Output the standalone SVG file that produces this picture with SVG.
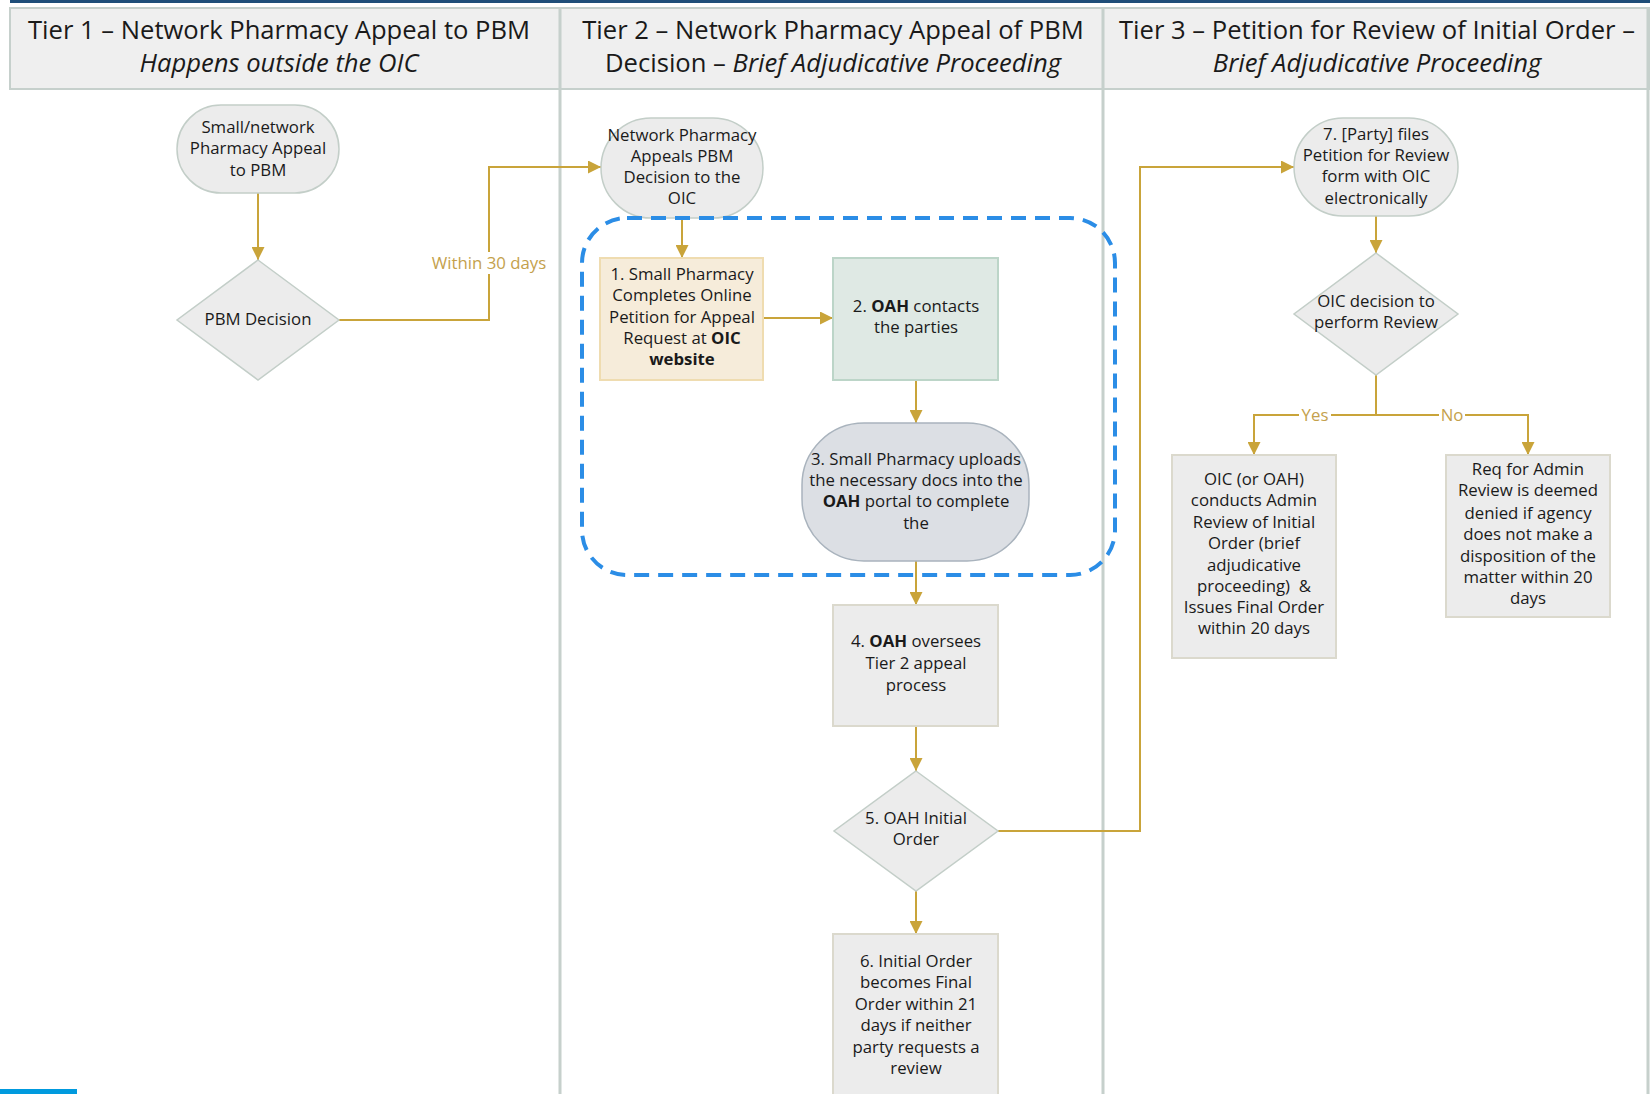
<svg xmlns="http://www.w3.org/2000/svg" width="1650" height="1094" viewBox="0 0 1650 1094">
<defs>
<style>
.hdr{font-family:"Open Sans","Noto Sans",sans-serif;font-size:25.6px;fill:#1a1a1a;text-anchor:middle}
.t{font-family:"Open Sans","Noto Sans",sans-serif;font-size:16.8px;fill:#1a1a1a;text-anchor:middle}
.lbl{font-family:"Open Sans","Noto Sans",sans-serif;font-size:16.8px;fill:#c4a14c;text-anchor:middle}
.gray{fill:#ececec;stroke:#c3cec8;stroke-width:1.5}
.box{fill:#ececec;stroke:#dbd9cd;stroke-width:2}
.conn{fill:none;stroke:#c9a43a;stroke-width:2}
.div{stroke:#c6d0cc;stroke-width:3}
</style>
<marker id="ah" viewBox="0 0 12 12" refX="12" refY="6" markerWidth="13" markerHeight="13" markerUnits="userSpaceOnUse" orient="auto">
<path d="M0,0 L12,6 L0,12 z" fill="#c9a43a"/>
</marker>
</defs>
<rect width="1650" height="1094" fill="#ffffff"/>
<g id="frame">
<rect x="10" y="0" width="1640" height="3" fill="#1f4e79"/>
<rect x="10" y="8" width="1640" height="81" fill="#efefef" stroke="#c6d0cc" stroke-width="2"/>
<line class="div" x1="560" y1="8" x2="560" y2="1094"/>
<line class="div" x1="1103" y1="8" x2="1103" y2="1094"/>
<line class="div" x1="1648" y1="8" x2="1648" y2="1094"/>
<rect x="0" y="1089" width="77" height="5" fill="#009ade"/>
</g>
<g id="headers">
<text class="hdr" x="279" y="39">Tier 1 – Network Pharmacy Appeal to PBM</text>
<text class="hdr" x="279" y="72" font-style="italic">Happens outside the OIC</text>
<text class="hdr" x="833" y="39">Tier 2 – Network Pharmacy Appeal of PBM</text>
<text class="hdr" x="833" y="72">Decision – <tspan font-style="italic">Brief Adjudicative Proceeding</tspan></text>
<text class="hdr" x="1377" y="39">Tier 3 – Petition for Review of Initial Order –</text>
<text class="hdr" x="1377" y="72" font-style="italic">Brief Adjudicative Proceeding</text>
</g>
<g id="connectors">
<path class="conn" d="M258,193 V260" marker-end="url(#ah)"/>
<path class="conn" d="M339,320 H489 V167 H601" marker-end="url(#ah)"/>
<rect x="428" y="252" width="122" height="22" fill="#ffffff"/>
<text class="lbl" x="489" y="269">Within 30 days</text>
<path class="conn" d="M682,218 V258" marker-end="url(#ah)"/>
<path class="conn" d="M763,318 H833" marker-end="url(#ah)"/>
<path class="conn" d="M916,380 V423" marker-end="url(#ah)"/>
<path class="conn" d="M916,561 V605" marker-end="url(#ah)"/>
<path class="conn" d="M916,726 V771" marker-end="url(#ah)"/>
<path class="conn" d="M916,891 V934" marker-end="url(#ah)"/>
<path class="conn" d="M998,831 H1140 V167 H1294" marker-end="url(#ah)"/>
<path class="conn" d="M1376,216 V253" marker-end="url(#ah)"/>
<path class="conn" d="M1376,375 V415"/>
<path class="conn" d="M1376,415 H1254 V455" marker-end="url(#ah)"/>
<path class="conn" d="M1376,415 H1528 V455" marker-end="url(#ah)"/>
<rect x="1299" y="406" width="32" height="18" fill="#ffffff"/>
<text class="lbl" x="1315" y="421">Yes</text>
<rect x="1439" y="406" width="26" height="18" fill="#ffffff"/>
<text class="lbl" x="1452" y="421">No</text>
</g>
<g id="n-start">
<rect class="gray" x="177" y="105" width="162" height="88" rx="44"/>
<text class="t"><tspan x="258" y="133">Small/network</tspan><tspan x="258" y="154">Pharmacy Appeal</tspan><tspan x="258" y="176">to PBM</tspan></text>
</g>
<g id="n-pbm">
<polygon class="gray" points="258,260 339,320 258,380 177,320"/>
<text class="t" x="258" y="325">PBM Decision</text>
</g>
<g id="n-network">
<rect class="gray" x="601" y="118" width="162" height="100" rx="50"/>
<text class="t"><tspan x="682" y="141">Network Pharmacy</tspan><tspan x="682" y="162">Appeals PBM</tspan><tspan x="682" y="183">Decision to the</tspan><tspan x="682" y="204">OIC</tspan></text>
</g>
<g id="n-1">
<rect x="600" y="258" width="163" height="122" fill="#f6ecda" stroke="#efdcb0" stroke-width="2"/>
<text class="t"><tspan x="682" y="280">1. Small Pharmacy</tspan><tspan x="682" y="301">Completes Online</tspan><tspan x="682" y="323">Petition for Appeal</tspan><tspan x="682" y="344">Request at <tspan font-weight="bold">OIC</tspan></tspan><tspan x="682" y="365" font-weight="bold">website</tspan></text>
</g>
<g id="n-2">
<rect x="833" y="258" width="165" height="122" fill="#dfe9e4" stroke="#bcd5c8" stroke-width="2"/>
<text class="t"><tspan x="916" y="312">2. <tspan font-weight="bold">OAH</tspan> contacts</tspan><tspan x="916" y="333">the parties</tspan></text>
</g>
<g id="n-3">
<rect x="802" y="423" width="227" height="138" rx="62" fill="#dcdfe4" stroke="#a9b3bd" stroke-width="1.5"/>
<text class="t"><tspan x="916" y="465">3. Small Pharmacy uploads</tspan><tspan x="916" y="486">the necessary docs into the</tspan><tspan x="916" y="507"><tspan font-weight="bold">OAH</tspan> portal to complete</tspan><tspan x="916" y="529">the</tspan></text>
</g>
<g id="n-4">
<rect class="box" x="833" y="605" width="165" height="121"/>
<text class="t"><tspan x="916" y="647">4. <tspan font-weight="bold">OAH</tspan> oversees</tspan><tspan x="916" y="669">Tier 2 appeal</tspan><tspan x="916" y="691">process</tspan></text>
</g>
<g id="n-5">
<polygon class="gray" points="916,771 998,831 916,891 834,831"/>
<text class="t"><tspan x="916" y="824">5. OAH Initial</tspan><tspan x="916" y="845">Order</tspan></text>
</g>
<g id="n-6">
<rect class="box" x="833" y="934" width="165" height="175"/>
<text class="t"><tspan x="916" y="967">6. Initial Order</tspan><tspan x="916" y="988">becomes Final</tspan><tspan x="916" y="1010">Order within 21</tspan><tspan x="916" y="1031">days if neither</tspan><tspan x="916" y="1053">party requests a</tspan><tspan x="916" y="1074">review</tspan></text>
</g>
<g id="n-7">
<rect class="gray" x="1294" y="118" width="164" height="98" rx="49"/>
<text class="t"><tspan x="1376" y="140">7. [Party] files</tspan><tspan x="1376" y="161">Petition for Review</tspan><tspan x="1376" y="182">form with OIC</tspan><tspan x="1376" y="204">electronically</tspan></text>
</g>
<g id="n-oic">
<polygon class="gray" points="1376,253 1458,314 1376,375 1294,314"/>
<text class="t"><tspan x="1376" y="307">OIC decision to</tspan><tspan x="1376" y="328">perform Review</tspan></text>
</g>
<g id="n-yes">
<rect class="box" x="1172" y="455" width="164" height="203"/>
<text class="t"><tspan x="1254" y="485">OIC (or OAH)</tspan><tspan x="1254" y="506">conducts Admin</tspan><tspan x="1254" y="528">Review of Initial</tspan><tspan x="1254" y="549">Order (brief</tspan><tspan x="1254" y="571">adjudicative</tspan><tspan x="1254" y="592">proceeding)&#160; &amp;</tspan><tspan x="1254" y="613">Issues Final Order</tspan><tspan x="1254" y="634">within 20 days</tspan></text>
</g>
<g id="n-no">
<rect class="box" x="1446" y="455" width="164" height="162"/>
<text class="t"><tspan x="1528" y="475">Req for Admin</tspan><tspan x="1528" y="496">Review is deemed</tspan><tspan x="1528" y="519">denied if agency</tspan><tspan x="1528" y="540">does not make a</tspan><tspan x="1528" y="562">disposition of the</tspan><tspan x="1528" y="583">matter within 20</tspan><tspan x="1528" y="604">days</tspan></text>
</g>
<g id="group-dashed">
<rect x="582" y="218" width="533" height="357" rx="45" fill="none" stroke="#2b8de6" stroke-width="4" stroke-dasharray="15 9"/>
</g>
</svg>
